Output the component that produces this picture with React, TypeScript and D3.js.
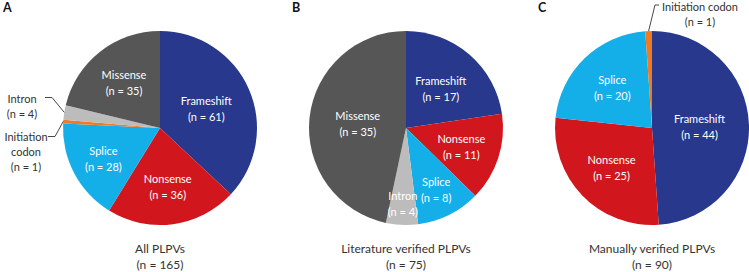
import React from "react";
import * as d3 from "d3";

// ---- Data ----
const PANEL_LETTERS = ["A", "B", "C"];
const PANEL_TITLES = ["All PLPVs", "Literature verified PLPVs", "Manually verified PLPVs"];

const A_CATEGORIES = ["Frameshift", "Nonsense", "Splice", "Initiation codon", "Intron", "Missense"];
const A_VALUES = [61, 36, 28, 1, 4, 35];

const B_CATEGORIES = ["Frameshift", "Nonsense", "Splice", "Intron", "Missense"];
const B_VALUES = [17, 11, 8, 4, 35];

const C_CATEGORIES = ["Frameshift", "Nonsense", "Splice", "Initiation codon"];
const C_VALUES = [44, 25, 20, 1];

// ---- Styles / layout ----
const COLORS: Record<string, string> = {
  Frameshift: "#27388d",
  Nonsense: "#d1171d",
  Splice: "#14aee8",
  "Initiation codon": "#ef7a22",
  Intron: "#bcbcbc",
  Missense: "#565656",
};

const W = 749;
const H = 272;
const R = 97;
const CY = 128;
const CENTERS_X = [160, 406, 652];
const LETTER_X = [3, 292, 538];
const FONT = "Lato, 'Open Sans', sans-serif";

// label radius factors (fraction of R) per slice, per panel
const A_LABEL_R = [0.52, 0.6, 0.66, 0, 0, 0.6];
const B_LABEL_R = [0.55, 0.6, 0.7, 0.77, 0.5];
const C_LABEL_R = [0.49, 0.58, 0.59, 0];

// external labels: text lines, text center x, first baseline-center y, elbow point
type Ext = { panel: number; cat: string; lines: string[]; tx: number; ty: number; ex: number; ey: number; hx: number };
const EXTERNAL: Ext[] = [
  { panel: 0, cat: "Intron", lines: ["Intron", "(n = 4)"], tx: 22, ty: 98, ex: 52, ey: 97.5, hx: 45 },
  { panel: 0, cat: "Initiation codon", lines: ["Initiation", "codon", "(n = 1)"], tx: 26, ty: 136, ex: 55, ey: 136.5, hx: 48 },
  { panel: 2, cat: "Initiation codon", lines: ["Initiation codon", "(n = 1)"], tx: 700, ty: 6, ex: 655, ey: 5, hx: 659 },
];

const PANELS = [
  { cats: A_CATEGORIES, vals: A_VALUES, labelR: A_LABEL_R },
  { cats: B_CATEGORIES, vals: B_VALUES, labelR: B_LABEL_R },
  { cats: C_CATEGORIES, vals: C_VALUES, labelR: C_LABEL_R },
];

export default function App() {
  const pie = d3
    .pie<number>()
    .sort(null)
    .value((d) => d);
  const arc = d3.arc<d3.PieArcDatum<number>>().innerRadius(0).outerRadius(R);

  return (
    <svg
      width={W}
      height={H}
      viewBox={`0 0 ${W} ${H}`}
      style={{ position: "absolute", left: 0, top: 0, background: "#fff" }}
      fontFamily={FONT}
    >
      {PANELS.map((p, pi) => {
        const arcs = pie(p.vals);
        const cx = CENTERS_X[pi];
        const total = d3.sum(p.vals);
        return (
          <g key={pi}>
            <text x={LETTER_X[pi]} y={12} fontSize={12.5} fontWeight={700} fill="#111">
              {PANEL_LETTERS[pi]}
            </text>
            <g transform={`translate(${cx},${CY})`}>
              {arcs.map((a, i) => (
                <path key={i} d={arc(a) || ""} fill={COLORS[p.cats[i]]} />
              ))}
              {arcs.map((a, i) => {
                const f = p.labelR[i];
                if (!f) return null;
                const la = d3.arc<d3.PieArcDatum<number>>().innerRadius(R * f).outerRadius(R * f);
                const [x, y] = la.centroid(a);
                return (
                  <text
                    key={"l" + i}
                    x={x}
                    textAnchor="middle"
                    fill="#fff"
                    fontSize={11}
                    dominantBaseline="central"
                  >
                    <tspan x={x} y={y - 8}>{p.cats[i]}</tspan>
                    <tspan x={x} y={y + 8}>{`(n = ${a.data})`}</tspan>
                  </text>
                );
              })}
            </g>
            <text x={cx} textAnchor="middle" fontSize={12} fill="#333" dominantBaseline="central">
              <tspan x={cx} y={248}>{PANEL_TITLES[pi]}</tspan>
              <tspan x={cx} y={264}>{`(n = ${total})`}</tspan>
            </text>
          </g>
        );
      })}
      {EXTERNAL.map((e, k) => {
        const p = PANELS[e.panel];
        const arcs = pie(p.vals);
        const idx = p.cats.indexOf(e.cat);
        const a = arcs[idx];
        const mid = (a.startAngle + a.endAngle) / 2;
        const px = CENTERS_X[e.panel] + R * Math.sin(mid);
        const py = CY - R * Math.cos(mid);
        return (
          <g key={"e" + k}>
            <polyline
              points={`${e.hx},${e.ey} ${e.ex},${e.ey} ${px},${py}`}
              fill="none"
              stroke="#333"
              strokeWidth={0.9}
            />
            <text textAnchor="middle" fontSize={11} fill="#333" dominantBaseline="central">
              {e.lines.map((l, j) => (
                <tspan key={j} x={e.tx} y={e.ty + j * 15}>
                  {l}
                </tspan>
              ))}
            </text>
          </g>
        );
      })}
    </svg>
  );
}
